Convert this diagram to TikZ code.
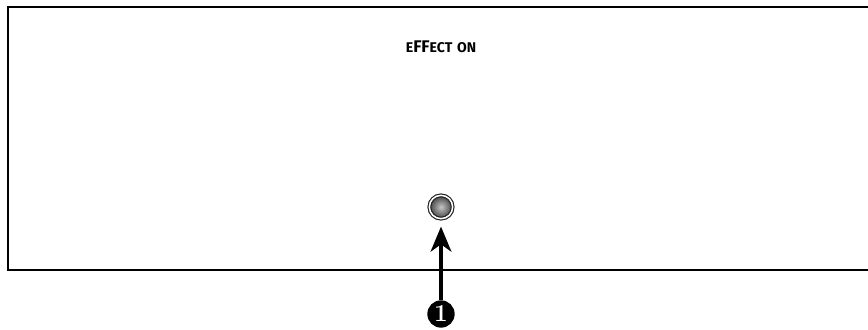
\documentclass[tikz,border=0pt]{standalone}
\usepackage{fontspec}
\setsansfont{Fira Sans}
\usetikzlibrary{arrows.meta, positioning}

\begin{document}
\begin{tikzpicture}[
    x=0.03cm, y=-0.03cm,
    panel/.style  = {line width=2.2pt, black},
    label/.style  = {font=\sffamily\bfseries\Large, inner sep=0pt},
    led/.style    = {circle, draw=black!85, line width=1pt, minimum size=0.7cm, inner sep=0pt,
                     double=white, double distance=1.3pt, inner color=gray!45, outer color=black!75},
    callout/.style= {circle, fill=black, text=white, minimum size=0.82cm, inner sep=0pt,
                     font=\bfseries\huge},
    pointer/.style= {-{Stealth[length=0.75cm, width=0.62cm, inset=0.22cm]}, line width=3.4pt}
]
    \useasboundingbox (0,0) rectangle (868,329);

    % panel outline (right side runs off the edge)
    \draw[panel] (868,7) -- (8,7) -- (8,270) -- (868,270);

    \node[label] (title) at (441,47) {{\large E}FF{\large ECT\,\,ON}};
    \node[led] (lamp) at (441,207) {};
    \node[callout] (num) at (441,314) {1};

    \draw[pointer] (num.north) -- ([yshift=-0.22cm]lamp.south);
\end{tikzpicture}
\end{document}
